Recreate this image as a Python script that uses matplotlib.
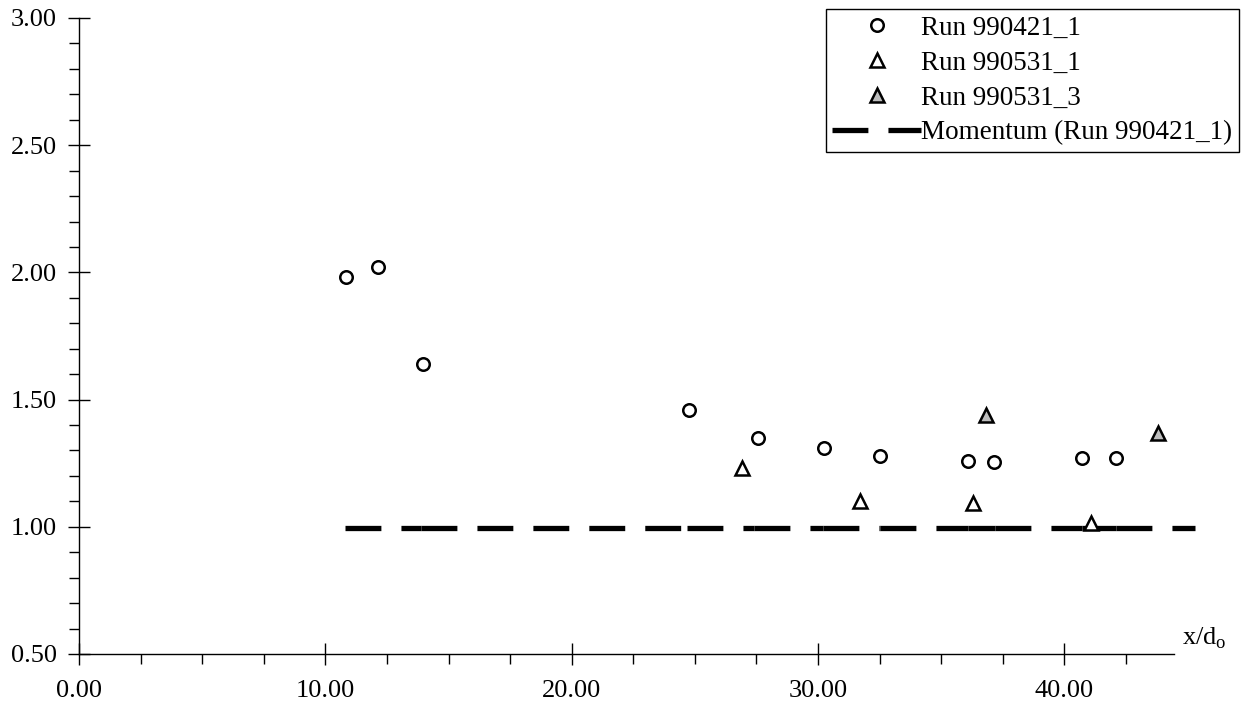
import matplotlib
matplotlib.use("Agg")
import matplotlib.pyplot as plt
from matplotlib.lines import Line2D
from matplotlib.ticker import MultipleLocator, FormatStrFormatter

# data
run_421_x = [10.85, 12.15, 13.95, 24.75, 27.55, 30.25, 32.5, 36.1, 37.15, 40.7, 42.1]
run_421_y = [1.98, 2.02, 1.64, 1.46, 1.35, 1.31, 1.28, 1.26, 1.255, 1.27, 1.27]

run_531_1_x = [26.9, 31.7, 36.3, 41.1]
run_531_1_y = [1.23, 1.10, 1.095, 1.015]

run_531_3_x = [36.8, 43.8]
run_531_3_y = [1.44, 1.37]

momentum_x = [10.8, 13.9, 24.7, 27.4, 30.2, 32.5, 36.1, 37.2, 40.7, 42.1, 45.3]
momentum_y = [0.995, 0.995, 0.995, 0.995, 0.995, 0.995, 0.995, 0.995, 0.995, 0.995, 0.995]

plt.rcParams["font.family"] = ["Liberation Serif", "DejaVu Serif"]
plt.rcParams["mathtext.fontset"] = "custom"
plt.rcParams["mathtext.rm"] = "Liberation Serif"

W, H = 1241, 708
fig = plt.figure(figsize=(W / 100, H / 100), dpi=100)
ax = fig.add_axes([79 / W, 1 - 654 / H, (1174 - 79) / W, (654 - 18) / H])

mom_lw = 3.8
dash = [6.8, 3.8]
# the momentum line restarts its dash pattern at every point
for i in range(len(momentum_x) - 1):
    ax.plot(momentum_x[i:i + 2], momentum_y[i:i + 2], color="black", lw=mom_lw,
            dashes=dash, solid_capstyle="butt", dash_capstyle="butt",
            clip_on=False, zorder=2)

cs, ts, mew = 9, 10.5, 1.8
ax.plot(run_421_x, run_421_y, "o", ms=cs, mfc="white", mec="black", mew=mew,
        ls="none", zorder=3)
ax.plot(run_531_1_x, run_531_1_y, "^", ms=ts, mfc="white", mec="black", mew=mew,
        ls="none", zorder=3)
ax.plot(run_531_3_x, run_531_3_y, "^", ms=ts, mfc="#bdbdbd", mec="black", mew=mew,
        ls="none", zorder=3)

ax.set_xlim(0, 44.45)
ax.set_ylim(0.5, 3.0)

for s in ["top", "right"]:
    ax.spines[s].set_visible(False)
for s in ["left", "bottom"]:
    ax.spines[s].set_linewidth(1.0)

ax.xaxis.set_major_locator(MultipleLocator(10))
ax.xaxis.set_minor_locator(MultipleLocator(2.5))
ax.yaxis.set_major_locator(MultipleLocator(0.5))
ax.yaxis.set_minor_locator(MultipleLocator(0.1))
ax.xaxis.set_major_formatter(FormatStrFormatter("%.2f"))
ax.yaxis.set_major_formatter(FormatStrFormatter("%.2f"))

ax.tick_params(which="major", direction="inout", length=16, width=1, labelsize=19)
ax.tick_params(which="minor", direction="out", length=7, width=1)
ax.tick_params(axis="x", which="major", pad=11)
ax.tick_params(axis="y", which="major", pad=8)

ax.text(1.007, 0.005, r"x/d$_{\rm o}$", transform=ax.transAxes, ha="left",
        va="bottom", fontsize=19)

handles = [
    Line2D([], [], marker="o", ls="none", ms=cs, mfc="white", mec="black", mew=mew),
    Line2D([], [], marker="^", ls="none", ms=ts, mfc="white", mec="black", mew=mew),
    Line2D([], [], marker="^", ls="none", ms=ts, mfc="#bdbdbd", mec="black", mew=mew),
    Line2D([], [], color="black", lw=mom_lw, dashes=dash),
]
labels = ["Run 990421_1", "Run 990531_1", "Run 990531_3", "Momentum (Run 990421_1)"]
leg = fig.legend(handles, labels, loc="upper right",
                 bbox_to_anchor=(1239 / W, 1 - 9 / H), bbox_transform=fig.transFigure,
                 fontsize=19.5, frameon=True, fancybox=False, framealpha=1,
                 edgecolor="black", borderaxespad=0, handlelength=3.3,
                 handletextpad=0.0, labelspacing=0.37, borderpad=0.24)
leg.get_frame().set_linewidth(1.0)

fig.savefig("out.png", dpi=100)
